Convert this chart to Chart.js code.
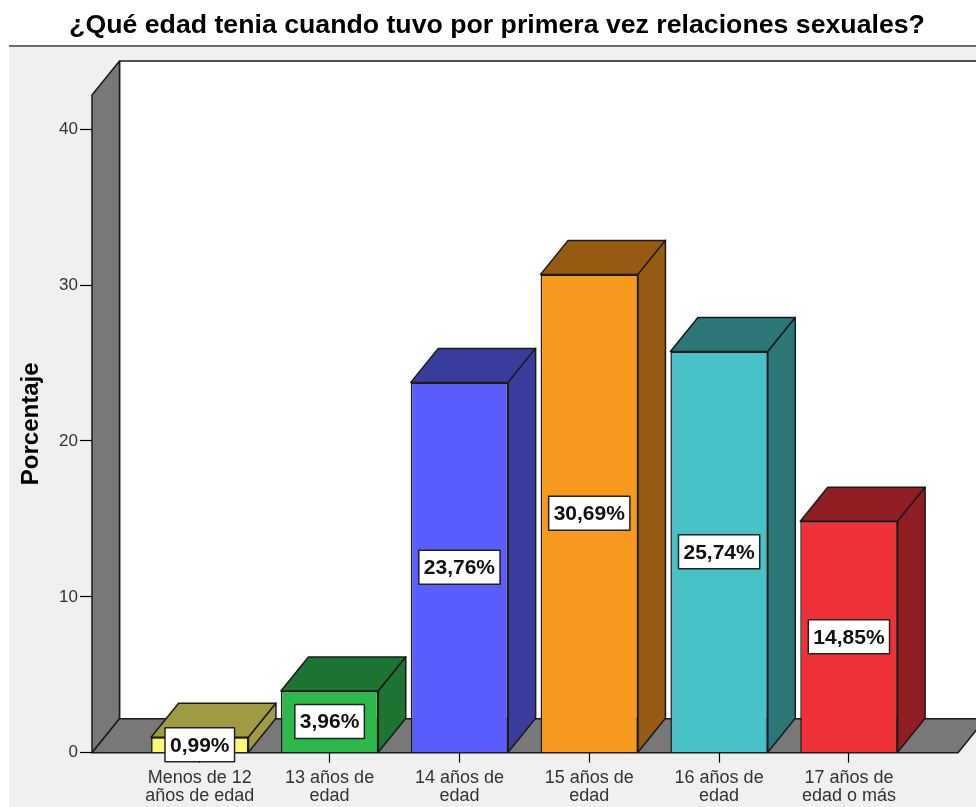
<!DOCTYPE html>
<html><head><meta charset="utf-8">
<script src="https://cdn.jsdelivr.net/npm/chart.js@4/dist/chart.umd.min.js"></script>
<style>html,body{margin:0;padding:0;background:#fff;overflow:hidden}</style>
</head><body>
<canvas id="c" width="976" height="807"></canvas>
<script>
const chartTitle = "¿Qué edad tenia cuando tuvo por primera vez relaciones sexuales?";
const yTitle = "Porcentaje";
const categories = [["Menos de 12","años de edad"],["13 años de","edad"],["14 años de","edad"],["15 años de","edad"],["16 años de","edad"],["17 años de","edad o más"]];
const percentages = [0.99, 3.96, 23.76, 30.69, 25.74, 14.85];
const yTickValues = [0, 10, 20, 30, 40];
const frontColors = ["#fafa7a","#2db84c","#5b5dfc","#f8991f","#48c2c6","#ef323a"];
const shadeColors = ["#9f9b45","#1e7432","#3a3c9b","#965a13","#2c7677","#8f1d23"];

const FONT = "'Liberation Sans', Arial, sans-serif";
const DX = 27.5, DY = -34;
const EDGE = "#1a1a1a";

function poly(ctx, pts, fill) {
  ctx.beginPath();
  ctx.moveTo(pts[0][0], pts[0][1]);
  for (let i = 1; i < pts.length; i++) ctx.lineTo(pts[i][0], pts[i][1]);
  ctx.closePath();
  ctx.fillStyle = fill; ctx.fill();
  ctx.lineWidth = 1.5; ctx.strokeStyle = EDGE; ctx.lineJoin = "round"; ctx.stroke();
}

const decor = {
  id: "decor",
  beforeDraw(chart) {
    const ctx = chart.ctx;
    ctx.save();
    ctx.fillStyle = "#ffffff"; ctx.fillRect(0, 0, chart.width, chart.height);
    ctx.fillStyle = "#f0f0f0"; ctx.fillRect(9, 47, chart.width - 9, chart.height - 47);
    ctx.fillStyle = "#6a6a6a"; ctx.fillRect(9, 45, chart.width - 9, 2);
    ctx.fillStyle = "#000";
    ctx.font = "bold 26.7px " + FONT;
    ctx.textAlign = "center"; ctx.textBaseline = "middle";
    ctx.fillText(chartTitle, 497, 26);
    ctx.restore();
  },
  beforeDatasetsDraw(chart) {
    const ctx = chart.ctx;
    const {left, right, top, bottom} = chart.chartArea;
    ctx.save();
    poly(ctx, [[left+DX, top+DY],[right+DX, top+DY],[right+DX, bottom+DY],[left+DX, bottom+DY]], "#ffffff");
    poly(ctx, [[left, bottom],[left, top],[left+DX, top+DY],[left+DX, bottom+DY]], "#787878");
    poly(ctx, [[left, bottom],[right, bottom],[right+DX, bottom+DY],[left+DX, bottom+DY]], "#787878");
    ctx.restore();
  },
  afterDatasetsDraw(chart) {
    const ctx = chart.ctx;
    const meta = chart.getDatasetMeta(0);
    ctx.save();
    meta.data.forEach((bar, i) => {
      const p = bar.getProps(["x","y","base","width"], true);
      const l = p.x - p.width/2, r = p.x + p.width/2, t = Math.min(p.y, p.base), b = Math.max(p.y, p.base);
      poly(ctx, [[l, t],[r, t],[r+DX, t+DY],[l+DX, t+DY]], shadeColors[i]);
      poly(ctx, [[r, t],[r+DX, t+DY],[r+DX, b+DY],[r, b]], shadeColors[i]);
    });
    ctx.font = "bold 21px " + FONT;
    ctx.textAlign = "center"; ctx.textBaseline = "middle";
    meta.data.forEach((bar, i) => {
      const p = bar.getProps(["x","y","base"], true);
      const cy = (p.y + p.base) / 2;
      const txt = percentages[i].toFixed(2).replace(".", ",") + "%";
      const tw = ctx.measureText(txt).width;
      const w = tw + 10, h = 34;
      ctx.fillStyle = "#ffffff";
      ctx.fillRect(p.x - w/2, cy - h/2, w, h);
      ctx.lineWidth = 1.5; ctx.strokeStyle = "#222";
      ctx.strokeRect(p.x - w/2, cy - h/2, w, h);
      ctx.fillStyle = "#111";
      ctx.fillText(txt, p.x, cy + 1);
    });
    ctx.restore();
  }
};

new Chart(document.getElementById("c"), {
  type: "bar",
  data: {
    datasets: [{
      data: percentages.map((v, i) => ({x: i, y: v})),
      backgroundColor: frontColors,
      borderColor: EDGE,
      borderWidth: 1.5,
      barPercentage: 0.75,
      categoryPercentage: 1
    }]
  },
  options: {
    responsive: false,
    animation: false,
    devicePixelRatio: 1,
    layout: { padding: { left: 0, right: 18, top: 95, bottom: 0 } },
    plugins: { legend: { display: false }, tooltip: { enabled: false }, title: { display: false } },
    scales: {
      x: {
        type: "linear",
        min: -0.83, max: 5.84,
        offset: false,
        afterBuildTicks: s => { s.ticks = categories.map((c, i) => ({value: i})); },
        afterFit: s => { s.height = 54.3; },
        ticks: {
          callback: v => categories[v],
          font: { family: FONT, size: 18, lineHeight: 0.98 },
          color: "#333",
          padding: 7,
          maxRotation: 0, autoSkip: false
        },
        grid: { drawOnChartArea: false, offset: false, color: "#000", tickLength: 10, tickWidth: 1.2 },
        border: { display: false }
      },
      y: {
        min: 0, max: 42.2,
        afterBuildTicks: s => { s.ticks = yTickValues.map(v => ({value: v})); },
        afterFit: s => { s.width = 92; },
        ticks: { font: { family: FONT, size: 17 }, color: "#333", padding: 2 },
        grid: { drawOnChartArea: false, color: "#000", tickLength: 12, tickWidth: 1.2 },
        border: { display: false },
        title: { display: true, text: yTitle, font: { family: FONT, size: 24, weight: "bold" }, color: "#000", padding: { top: 17, bottom: 0 } }
      }
    }
  },
  plugins: [decor]
});
</script>
</body></html>
